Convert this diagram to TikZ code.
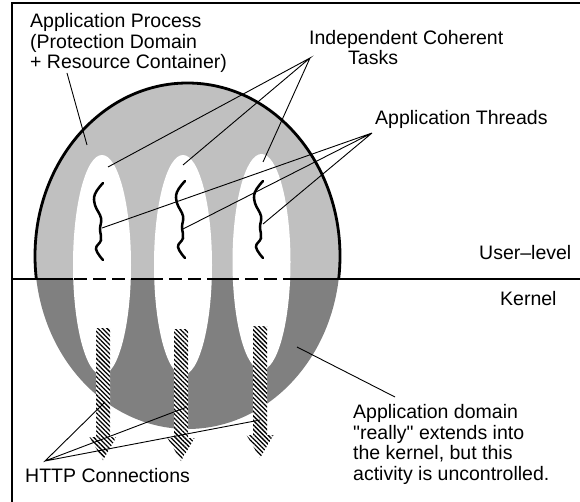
\documentclass[tikz,border=0pt]{standalone}
\usepackage{fontspec}
\setmainfont{Liberation Sans}[Ligatures=TeXOff]
\usetikzlibrary{patterns.meta,shapes.geometric}
\definecolor{usergray}{HTML}{C0C0C0}
\definecolor{kernelgray}{HTML}{808080}

\tikzset{
  lbl/.style={font=\fontsize{19.5}{20.5}\selectfont, inner sep=0pt, anchor=base west, align=left},
  leader/.style={line width=0.9pt},
  framestroke/.style={line width=2.2pt},
  splitline/.style={line width=2.6pt},
  splitdash/.style={line width=1.5pt, dash pattern=on 13pt off 6pt},
  threadline/.style={line width=2.5pt, line cap=round},
  taskshape/.style={ellipse, fill=white, draw=none, minimum width=58pt, minimum height=220pt, inner sep=0pt},
  hatched/.style={preaction={fill=white},
    pattern={Lines[angle=-45, distance=3.2pt, line width=1.3pt]}},
  thread/.pic={
    \draw[threadline] plot[smooth, tension=0.7] coordinates
      {(0,0) (-8,11) (-8,22) (-2,35) (-3,46) (-2,57) (-7,66) (0,77)};
  },
  httparrow/.pic={
    \path[hatched] (-7,0) -- (7,0) -- (7,109) -- (13.5,109) -- (0,132)
      -- (-13.5,109) -- (-7,109) -- cycle;
  }
}

\begin{document}
\begin{tikzpicture}[x=1pt, y=-1pt]
\useasboundingbox (0,0) rectangle (580,502);

% process domain: user-level half light, kernel half dark
\coordinate (pc) at (187.5,256);
\begin{scope}
  \clip (0,0) rectangle (580,279);
  \fill[usergray] (pc) ellipse [x radius=152.5, y radius=173];
  \draw[line width=2.8pt] (pc) ellipse [x radius=152.5, y radius=173];
\end{scope}
\begin{scope}
  \clip (0,279) rectangle (580,502);
  \fill[kernelgray] (pc) ellipse [x radius=152.5, y radius=173];
\end{scope}

% user/kernel boundary
\coordinate (sl) at (12,279);
\coordinate (sr) at (580,279);
\draw[splitline] (sl) -- (sr);

% independent coherent tasks
\node[taskshape] (t1) at (102,265) {};
\node[taskshape] (t2) at (183,265) {};
\node[taskshape, minimum height=216pt] (t3) at (261.5,262) {};

% boundary continues, dashed, through the process
\coordinate (dl) at (36,279);
\coordinate (dr) at (339,279);
\draw[splitdash] (dl) -- (dr);

% application threads
\pic at (103,183) {thread};
\pic at (185,181) {thread};
\pic at (263,181) {thread};

% HTTP connections
\pic at (103,328) {httparrow};
\pic at (181,329) {httparrow};
\pic at (260,326) {httparrow};

% labels (base anchor sits on the last line)
\node[lbl] (proc) at (30,69) {Application Process\\(Protection Domain\\+ Resource Container)};
\node[lbl] (tasks) at (309,65) {Independent Coherent\\\hspace*{39pt}Tasks};
\node[lbl] (threads) at (375,125) {Application Threads};
\node[lbl] (user) at (479,260) {User–level};
\node[lbl] (kernel) at (500,305) {Kernel};
\node[lbl] (domain) at (353,480) {Application domain\\"really" extends into\\the kernel, but this\\activity is uncontrolled.};
\node[lbl] (http) at (25,482) {HTTP Connections};

% leader lines
\coordinate (procA) at (67,73);
\coordinate (procB) at (87,145);
\draw[leader] (procA) -- (procB);

\coordinate (taskhub) at (310,58);
\coordinate (tk1) at (108,167);
\coordinate (tk2) at (183,165);
\coordinate (tk3) at (263,162);
\draw[leader] (tk1) -- (taskhub) -- (tk2) (taskhub) -- (tk3);

\coordinate (thrhub) at (372,133);
\coordinate (th1) at (102,228);
\coordinate (th2) at (183,229);
\coordinate (th3) at (263,224);
\draw[leader] (th1) -- (thrhub) -- (th2) (thrhub) -- (th3);

\coordinate (domA) at (297,347);
\coordinate (domB) at (395,397);
\draw[leader] (domA) -- (domB);

\coordinate (httphub) at (45,461);
\coordinate (hc1) at (105,402);
\coordinate (hc2) at (187,407);
\coordinate (hc3) at (260,420);
\draw[leader] (hc1) -- (httphub) -- (hc2) (httphub) -- (hc3);

% frame
\coordinate (fo) at (12,3);
\coordinate (fr) at (580,3);
\coordinate (fb) at (12,502);
\draw[framestroke] (fr) -- (fo) -- (fb);
\end{tikzpicture}
\end{document}
